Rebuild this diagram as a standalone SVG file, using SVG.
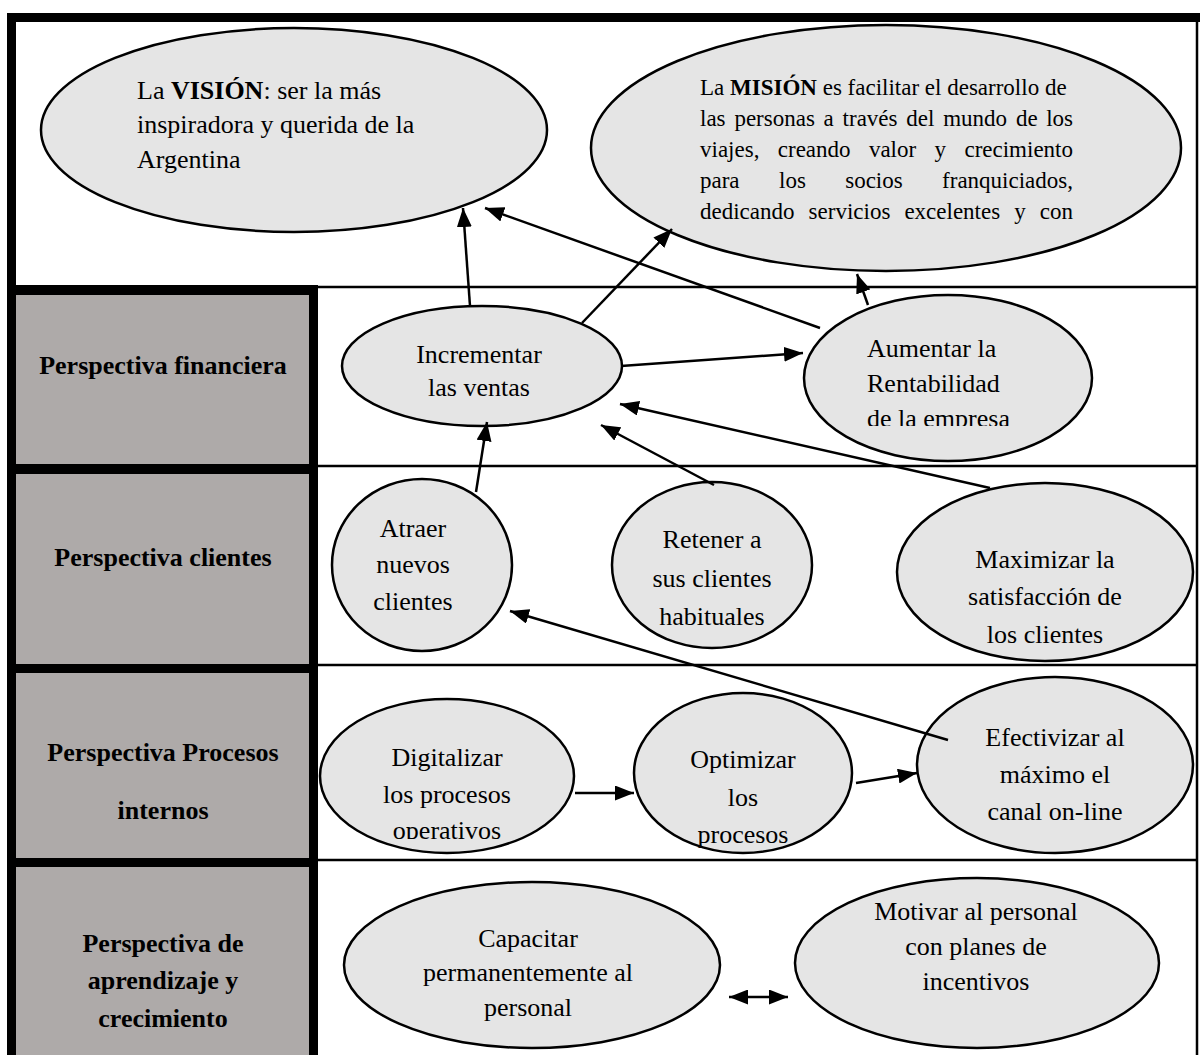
<svg xmlns="http://www.w3.org/2000/svg" width="1200" height="1055" viewBox="0 0 1200 1055">
<style>
.t{font-family:"Liberation Serif","Times New Roman",serif;font-size:26px;fill:#000}
.m{font-family:"Liberation Serif","Times New Roman",serif;font-size:23px;fill:#000}
.lb{font-family:"Liberation Serif","Times New Roman",serif;font-size:26px;font-weight:bold;fill:#000;text-anchor:middle}
.c{text-anchor:middle}
.e{fill:#e5e5e5;stroke:#000;stroke-width:2.5}
.g{fill:#aeaaa9}
.k{fill:#000}
.hl{stroke:#000;stroke-width:2.5}
.a{stroke:#000;stroke-width:2.5;fill:none;marker-end:url(#ah)}
</style>
<defs>
<marker id="ah" markerUnits="userSpaceOnUse" markerWidth="19" markerHeight="15" refX="19" refY="7.5" orient="auto-start-reverse">
<path d="M0,0 L19,7.5 L0,15 z" fill="#000"/>
</marker>
<clipPath id="clipA"><rect x="800" y="290" width="300" height="136"/></clipPath>
<clipPath id="clipD"><rect x="318" y="680" width="260" height="159"/></clipPath>
</defs>
<rect width="1200" height="1055" fill="#fff"/>
<g id="frame">
<rect class="k" x="7" y="13" width="1193" height="9"/>
<rect class="k" x="7" y="13" width="9" height="1042"/>
<line class="hl" x1="1197" y1="22" x2="1197" y2="1055"/>
<line class="hl" x1="318" y1="287" x2="1197" y2="287"/>
<line class="hl" x1="318" y1="466" x2="1197" y2="466"/>
<line class="hl" x1="318" y1="665" x2="1197" y2="665"/>
<line class="hl" x1="318" y1="860" x2="1197" y2="860"/>
<rect class="k" x="7" y="285" width="311" height="10"/>
<rect class="k" x="7" y="464" width="311" height="10"/>
<rect class="k" x="7" y="664" width="311" height="9"/>
<rect class="k" x="7" y="858" width="311" height="9"/>
<rect class="k" x="309" y="285" width="9" height="770"/>
<rect class="g" x="16" y="295" width="293" height="169"/>
<rect class="g" x="16" y="474" width="293" height="190"/>
<rect class="g" x="16" y="673" width="293" height="185"/>
<rect class="g" x="16" y="867" width="293" height="188"/>
</g>
<g id="labels">
<text class="lb" x="163" y="374">Perspectiva financiera</text>
<text class="lb" x="163" y="566">Perspectiva clientes</text>
<text class="lb" x="163" y="761">Perspectiva Procesos</text>
<text class="lb" x="163" y="819">internos</text>
<text class="lb" x="163" y="952">Perspectiva de</text>
<text class="lb" x="163" y="989">aprendizaje y</text>
<text class="lb" x="163" y="1027">crecimiento</text>
</g>
<g id="vision">
<ellipse class="e" cx="294" cy="130" rx="253" ry="102"/>
<text class="t" x="137" y="99">La <tspan font-weight="bold">VISIÓN</tspan>: ser la más</text>
<text class="t" x="137" y="133">inspiradora y querida de la</text>
<text class="t" x="137" y="168">Argentina</text>
</g>
<g id="mision">
<ellipse class="e" cx="886" cy="148" rx="295" ry="123"/>
<text class="m" x="700" y="95">La <tspan font-weight="bold">MISIÓN</tspan> es facilitar el desarrollo de</text>
<text class="m" y="126"><tspan x="700">las</tspan><tspan x="734.4">personas</tspan><tspan x="823.6">a</tspan><tspan x="842.6">través</tspan><tspan x="906.3">del</tspan><tspan x="943.2">mundo</tspan><tspan x="1015.9">de</tspan><tspan x="1073" text-anchor="end">los</tspan></text>
<text class="m" y="157"><tspan x="700">viajes,</tspan><tspan x="777.8">creando</tspan><tspan x="868.9">valor</tspan><tspan x="934.6">y</tspan><tspan x="1073" text-anchor="end">crecimiento</tspan></text>
<text class="m" y="188"><tspan x="700">para</tspan><tspan x="779">los</tspan><tspan x="845.2">socios</tspan><tspan x="1073" text-anchor="end">franquiciados,</tspan></text>
<text class="m" y="219"><tspan x="700">dedicando</tspan><tspan x="808.6">servicios</tspan><tspan x="904.4">excelentes</tspan><tspan x="1014.3">y</tspan><tspan x="1073" text-anchor="end">con</tspan></text>
</g>
<g id="incrementar">
<ellipse class="e" cx="482" cy="366" rx="140" ry="60"/>
<text class="t c" x="479" y="363">Incrementar</text>
<text class="t c" x="479" y="396">las ventas</text>
</g>
<g id="aumentar">
<ellipse class="e" cx="948" cy="378" rx="144" ry="83"/>
<g clip-path="url(#clipA)">
<text class="t" x="867" y="357">Aumentar la</text>
<text class="t" x="867" y="392">Rentabilidad</text>
<text class="t" x="867" y="427">de la empresa</text>
</g>
</g>
<g id="atraer">
<ellipse class="e" cx="422" cy="565" rx="90" ry="86"/>
<text class="t c" x="413" y="537">Atraer</text>
<text class="t c" x="413" y="573">nuevos</text>
<text class="t c" x="413" y="610">clientes</text>
</g>
<g id="retener">
<ellipse class="e" cx="712" cy="565" rx="100" ry="83"/>
<text class="t c" x="712" y="548">Retener a</text>
<text class="t c" x="712" y="587">sus clientes</text>
<text class="t c" x="712" y="625">habituales</text>
</g>
<g id="maximizar">
<ellipse class="e" cx="1045" cy="572" rx="148" ry="89"/>
<text class="t c" x="1045" y="568">Maximizar la</text>
<text class="t c" x="1045" y="605">satisfacción de</text>
<text class="t c" x="1045" y="643">los clientes</text>
</g>
<g id="digitalizar">
<ellipse class="e" cx="447" cy="776" rx="127" ry="77"/>
<g clip-path="url(#clipD)">
<text class="t c" x="447" y="766">Digitalizar</text>
<text class="t c" x="447" y="803">los procesos</text>
<text class="t c" x="447" y="839">operativos</text>
</g>
</g>
<g id="optimizar">
<ellipse class="e" cx="743" cy="773" rx="109" ry="80"/>
<text class="t c" x="743" y="768">Optimizar</text>
<text class="t c" x="743" y="806">los</text>
<text class="t c" x="743" y="843">procesos</text>
</g>
<g id="efectivizar">
<ellipse class="e" cx="1055" cy="765" rx="138" ry="88"/>
<text class="t c" x="1055" y="746">Efectivizar al</text>
<text class="t c" x="1055" y="783">máximo el</text>
<text class="t c" x="1055" y="820">canal on-line</text>
</g>
<g id="capacitar">
<ellipse class="e" cx="532" cy="965" rx="188" ry="83"/>
<text class="t c" x="528" y="947">Capacitar</text>
<text class="t c" x="528" y="981">permanentemente al</text>
<text class="t c" x="528" y="1016">personal</text>
</g>
<g id="motivar">
<ellipse class="e" cx="977" cy="963" rx="182" ry="85"/>
<text class="t c" x="976" y="920">Motivar al personal</text>
<text class="t c" x="976" y="955">con planes de</text>
<text class="t c" x="976" y="990">incentivos</text>
</g>
<g id="connectors">
<line class="a" x1="470" y1="306" x2="463" y2="208"/>
<line class="a" x1="820" y1="328" x2="485" y2="208"/>
<line class="a" x1="582" y1="323" x2="672" y2="229"/>
<line class="a" x1="868" y1="305" x2="857" y2="274"/>
<line class="a" x1="621" y1="366" x2="803" y2="353"/>
<line class="a" x1="476" y1="492" x2="487" y2="422"/>
<line class="a" x1="714" y1="485" x2="601" y2="425"/>
<line class="a" x1="990" y1="488" x2="620" y2="404"/>
<line class="a" x1="948" y1="740" x2="510" y2="611"/>
<line class="a" x1="575" y1="793" x2="634" y2="793"/>
<line class="a" x1="856" y1="783" x2="917" y2="773"/>
<line class="a" x1="729" y1="997" x2="788" y2="997" marker-start="url(#ah)"/>
</g>
</svg>
